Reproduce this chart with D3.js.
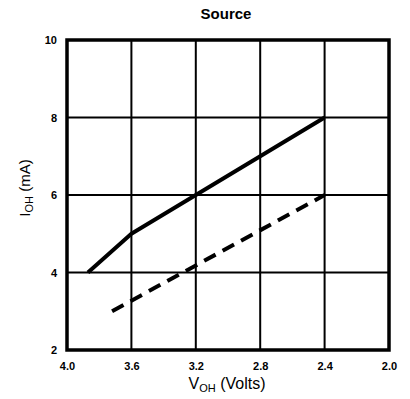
<!DOCTYPE html>
<html>
<head>
<meta charset="utf-8">
<script src="https://cdn.jsdelivr.net/npm/d3@7"></script>
<style>
  body { margin: 0; background: #fff; }
  svg { display: block; font-family: Arial, "Liberation Sans", sans-serif; }
</style>
</head>
<body>
<div id="chart"></div>
<script>
// Chart data
const xTicks = [4.0, 3.6, 3.2, 2.8, 2.4, 2.0];
const yTicks = [2, 4, 6, 8, 10];
const solidSeries = [[3.87, 4], [3.6, 5], [2.4, 8]];
const dashedSeries = [[3.72, 3], [2.4, 6]];

const width = 410, height = 399;
const margins = { top: 40, right: 21, bottom: 49, left: 67 };
const innerW = width - margins.left - margins.right;
const innerH = height - margins.top - margins.bottom;

const svg = d3.select('#chart').append('svg')
  .attr('width', width)
  .attr('height', height);

const g = svg.append('g')
  .attr('transform', `translate(${margins.left},${margins.top})`);

// Scales (x runs from 4.0 down to 2.0)
const x = d3.scaleLinear().domain([4.0, 2.0]).range([0, innerW]);
const y = d3.scaleLinear().domain([2, 10]).range([innerH, 0]);

// Grid lines
g.append('g').selectAll('line')
  .data(xTicks.slice(1, -1))
  .enter().append('line')
  .attr('x1', d => x(d)).attr('x2', d => x(d))
  .attr('y1', 0).attr('y2', innerH)
  .attr('stroke', '#000').attr('stroke-width', 2);

g.append('g').selectAll('line')
  .data(yTicks.slice(1, -1))
  .enter().append('line')
  .attr('x1', 0).attr('x2', innerW)
  .attr('y1', d => y(d)).attr('y2', d => y(d))
  .attr('stroke', '#000').attr('stroke-width', 2);

// Frame
g.append('rect')
  .attr('x', 0).attr('y', 0)
  .attr('width', innerW).attr('height', innerH)
  .attr('fill', 'none')
  .attr('stroke', '#000')
  .attr('stroke-width', 3.5);

// Axes (labels only)
const xAxis = g.append('g')
  .attr('transform', `translate(0,${innerH})`)
  .call(d3.axisBottom(x).tickValues(xTicks).tickFormat(d3.format('.1f')).tickSize(0).tickPadding(12));
xAxis.select('.domain').remove();

const yAxis = g.append('g')
  .call(d3.axisLeft(y).tickValues(yTicks).tickFormat(d3.format('d')).tickSize(0).tickPadding(10));
yAxis.select('.domain').remove();

svg.selectAll('.tick text')
  .attr('font-size', 11)
  .attr('font-weight', 'bold')
  .attr('font-family', 'Arial, "Liberation Sans", sans-serif')
  .attr('fill', '#000');

// Data lines
const line = d3.line().x(d => x(d[0])).y(d => y(d[1]));

g.append('path')
  .datum(solidSeries)
  .attr('d', line)
  .attr('fill', 'none')
  .attr('stroke', '#000')
  .attr('stroke-width', 4)
  .attr('stroke-linejoin', 'round');

g.append('path')
  .datum(dashedSeries)
  .attr('d', line)
  .attr('fill', 'none')
  .attr('stroke', '#000')
  .attr('stroke-width', 4)
  .attr('stroke-dasharray', '13,8');

// Title
svg.append('text')
  .attr('x', 226)
  .attr('y', 19)
  .attr('text-anchor', 'middle')
  .attr('font-size', 15)
  .attr('font-weight', 'bold')
  .text('Source');

// X label
const xl = svg.append('text')
  .attr('x', 227)
  .attr('y', 389)
  .attr('text-anchor', 'middle')
  .attr('font-size', 16);
xl.append('tspan').text('V');
xl.append('tspan').attr('font-size', 11).attr('dy', 3).text('OH');
xl.append('tspan').attr('dy', -3).text(' (Volts)');

// Y label
const yl = svg.append('text')
  .attr('transform', `translate(30,188) rotate(-90)`)
  .attr('text-anchor', 'middle')
  .attr('font-size', 15);
yl.append('tspan').text('I');
yl.append('tspan').attr('font-size', 11).attr('dy', 3).text('OH');
yl.append('tspan').attr('dy', -3).text(' (mA)');
</script>
</body>
</html>
